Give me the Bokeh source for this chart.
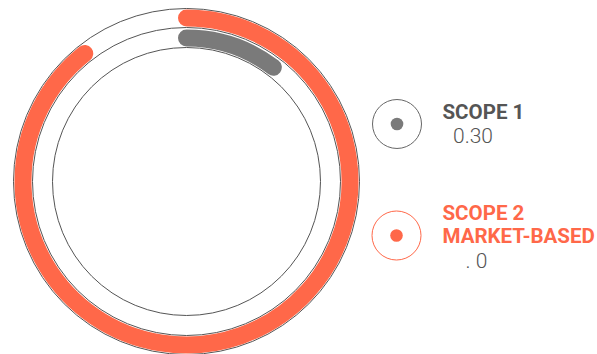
import math
from bokeh.plotting import figure
from bokeh.models import Range1d
from bokeh.core.properties import value
from bokeh.embed import file_html
from bokeh.resources import INLINE

# data
series = ["SCOPE 1", "SCOPE 2 MARKET-BASED"]
title_lines = [["SCOPE 1"], ["SCOPE 2", "MARKET-BASED"]]
values = [0.30, 2.59]
value_labels = ["0.30", ".  0"]
scale_max = 2.90
colors = ["#7a7a7a", "#ff6849"]
label_colors = ["#555555", "#ff6849"]

W, H = 597, 354
p = figure(width=W, height=H, output_backend="svg", toolbar_location=None,
           x_range=Range1d(0, W), y_range=Range1d(0, H), min_border=0)
p.axis.visible = False
p.grid.visible = False
p.outline_line_color = None
p.background_fill_color = "white"
p.border_fill_color = "white"

cx, cy = 186, 173
ring_mid = [143.5, 163.5]
ring_w = 17
track_r = [134, 154, 173]

for r in track_r:
    p.circle(x=[cx], y=[cy], radius=r, fill_color=None, line_color="#555555", line_width=1)

start = math.pi / 2
for i, (v, c) in enumerate(zip(values, colors)):
    frac = v / scale_max
    p.arc(x=[cx], y=[cy], radius=ring_mid[i], start_angle=start,
          end_angle=start - 2 * math.pi * frac, direction="clock",
          line_color=c, line_width=ring_w, line_cap="round")

# legend
leg_x = [396.5, 396]
leg_y = [230.5, 119]
leg_line = ["#666666", colors[1]]
for i in range(2):
    p.circle(x=[leg_x[i]], y=[leg_y[i]], radius=24.5, fill_color=None,
             line_color=leg_line[i], line_width=1)
    p.circle(x=[leg_x[i]], y=[leg_y[i]], radius=6.3, fill_color=colors[i], line_color=None)

title_base = [[243], [142, 119]]
for i in range(2):
    for line, yb in zip(title_lines[i], title_base[i]):
        p.text(x=[442], y=[yb], text=[line], text_font=value("Roboto"),
               text_font_style="bold", text_font_size="20.5px",
               text_color=label_colors[i], text_baseline="alphabetic")

val_x = [452.5, 465]
val_y = [219, 94]
for i in range(2):
    p.text(x=[val_x[i]], y=[val_y[i]], text=[value_labels[i]], text_font=value("Roboto Light"),
           text_font_style="normal", text_font_size="21px",
           text_color="#555555", text_baseline="alphabetic")

open("out.html", "w").write(file_html(p, INLINE))
